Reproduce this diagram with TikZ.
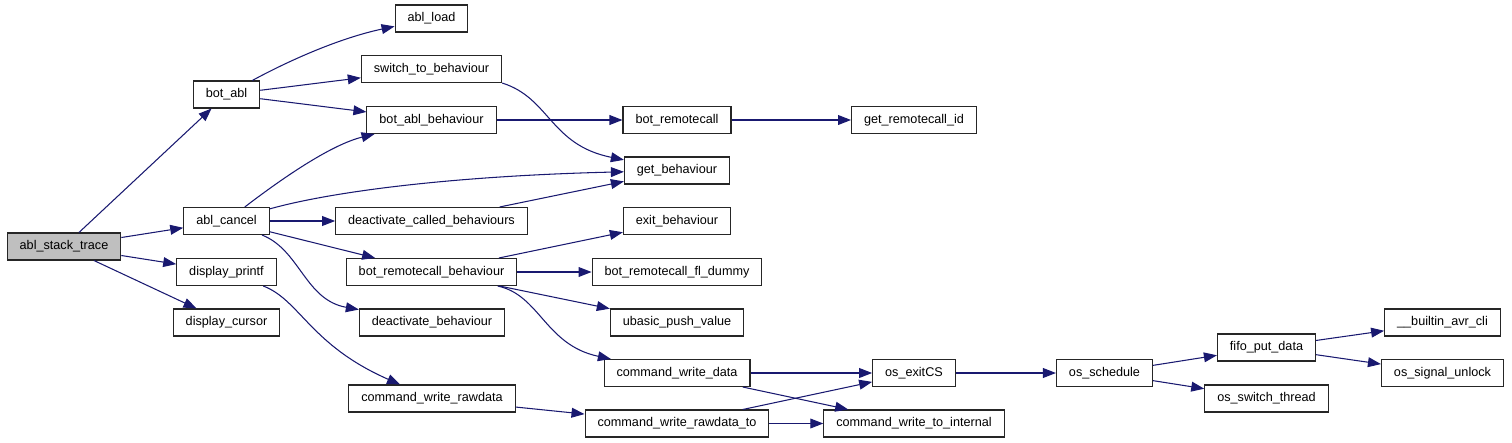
\documentclass[tikz,border=0pt]{standalone}
\usepackage{fontspec}
\setmainfont{Liberation Sans}
\usetikzlibrary{arrows.meta,positioning}
\definecolor{edgeblue}{HTML}{191970}
\definecolor{rootgray}{HTML}{BFBFBF}

\begin{document}
\begin{tikzpicture}[
  x=0.02cm, y=-0.02cm,
  fn/.style={rectangle, draw=black!85, line width=0.6pt, fill=white, inner xsep=0.25cm,
             inner ysep=0pt, minimum height=0.54cm, font=\fontsize{7.2}{8}\selectfont},
  root/.style={fn, fill=rootgray},
  call/.style={-{Triangle[length=7.4pt,width=5.6pt]}, draw=edgeblue, line width=0.6pt}
]
\useasboundingbox (0,0) rectangle (1512,443);

% Spalte 1
\node[root] (stacktrace) at (64,246.5) {abl\_stack\_trace};

% Spalte 2
\node[fn] (botabl) at (226.5,94.5) {bot\_abl};
\node[fn] (cancel) at (226.5,221) {abl\_cancel};
\node[fn] (printf) at (226.5,272) {display\_printf};
\node[fn] (cursor) at (226.5,322.5) {display\_cursor};

% Spalte 3
\node[fn] (load) at (431.5,18.5) {abl\_load};
\node[fn] (switchto) at (431.5,69) {switch\_to\_behaviour};
\node[fn] (ablbeh) at (431.5,120) {bot\_abl\_behaviour};
\node[fn] (deacalled) at (431.5,221) {deactivate\_called\_behaviours};
\node[fn] (rcbeh) at (431.5,272) {bot\_remotecall\_behaviour};
\node[fn] (deabeh) at (432,322.5) {deactivate\_behaviour};
\node[fn] (rawdata) at (432,398.5) {command\_write\_rawdata};

% Spalte 4
\node[fn] (remotecall) at (677,120) {bot\_remotecall};
\node[fn] (getbeh) at (677,170.5) {get\_behaviour};
\node[fn] (exitbeh) at (677,221) {exit\_behaviour};
\node[fn] (fldummy) at (677,272) {bot\_remotecall\_fl\_dummy};
\node[fn] (pushval) at (677,322.5) {ubasic\_push\_value};
\node[fn] (writedata) at (677,373) {command\_write\_data};
\node[fn] (rawdatato) at (677,423.5) {command\_write\_rawdata\_to};

% Spalte 5
\node[fn] (rcid) at (914,120) {get\_remotecall\_id};
\node[fn] (exitcs) at (914,373) {os\_exitCS};
\node[fn] (tointernal) at (914,423.5) {command\_write\_to\_internal};

% Scheduler
\node[fn] (schedule) at (1104.5,373) {os\_schedule};
\node[fn] (fifoput) at (1266.5,347.5) {fifo\_put\_data};
\node[fn] (switchthread) at (1266.5,398.5) {os\_switch\_thread};
\node[fn] (avrcli) at (1442.5,322.5) {\_\_builtin\_avr\_cli};
\node[fn] (unlock) at (1442.5,373) {os\_signal\_unlock};

% Aufrufe
\draw[call] (stacktrace) -- (botabl);
\draw[call] (stacktrace) -- (cancel);
\draw[call] (stacktrace) -- (printf);
\draw[call] (stacktrace) -- (cursor);

\draw[call] (botabl) .. controls (290,60) and (340,38) .. (load);
\draw[call] (botabl) -- (switchto);
\draw[call] (botabl) -- (ablbeh);
\draw[call] (switchto.south east) .. controls (550,98) and (550,145) .. (getbeh);
\draw[call] (ablbeh) -- (remotecall);
\draw[call] (remotecall) -- (rcid);

\draw[call] (cancel) .. controls (280,180) and (330,145) .. (ablbeh);
\draw[call] (cancel) .. controls (330,192) and (450,176) .. (getbeh);
\draw[call] (cancel) -- (deacalled);
\draw[call] (cancel) -- (rcbeh);
\draw[call] (cancel) .. controls (300,250) and (305,300) .. (deabeh);
\draw[call] (deacalled) -- (getbeh);

\draw[call] (rcbeh) -- (exitbeh);
\draw[call] (rcbeh) -- (fldummy);
\draw[call] (rcbeh) -- (pushval);
\draw[call] (rcbeh) .. controls (540,295) and (545,345) .. (writedata);

\draw[call] (printf) .. controls (300,300) and (310,345) .. (rawdata);
\draw[call] (rawdata) -- (rawdatato);
\draw[call] (writedata) -- (exitcs);
\draw[call] (writedata) -- (tointernal);
\draw[call] (rawdatato) -- (exitcs);
\draw[call] (rawdatato) -- (tointernal);

\draw[call] (exitcs) -- (schedule);
\draw[call] (schedule) -- (fifoput);
\draw[call] (schedule) -- (switchthread);
\draw[call] (fifoput) -- (avrcli);
\draw[call] (fifoput) -- (unlock);

\end{tikzpicture}
\end{document}
